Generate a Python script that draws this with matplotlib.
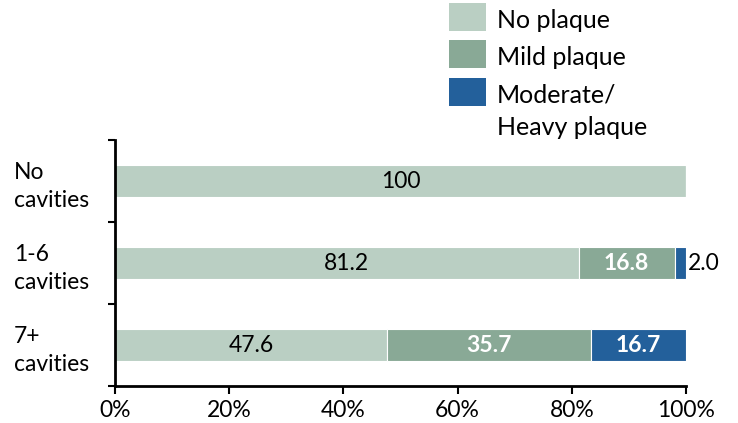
import matplotlib
matplotlib.use("Agg")
import matplotlib.pyplot as plt
from matplotlib.patches import Rectangle
from matplotlib.ticker import FixedLocator, NullFormatter

plt.rcParams['font.family'] = ['Lato', 'DejaVu Sans']

categories = ["No\ncavities", "1-6\ncavities", "7+\ncavities"]
no_plaque = [100, 81.2, 47.6]
mild_plaque = [0, 16.8, 35.7]
heavy_plaque = [0, 2.0, 16.7]
series_names = ["No plaque", "Mild plaque", "Moderate/\nHeavy plaque"]
colors = ["#BACFC3", "#89A996", "#23609B"]
xtick_labels = ["0%", "20%", "40%", "60%", "80%", "100%"]

W, H = 738, 423
fig = plt.figure(figsize=(W / 100, H / 100), dpi=100)
ax = fig.add_axes([115 / W, 1 - 386 / H, (686 - 115) / W, (386 - 140) / H])

ypos = list(range(len(categories)))
bar_h = 0.4
left = [0] * len(categories)
series = [no_plaque, mild_plaque, heavy_plaque]
for vals, col in zip(series, colors):
    ax.barh(ypos, vals, left=left, height=bar_h, color=col,
            edgecolor="white", linewidth=0.8)
    left = [l + v for l, v in zip(left, vals)]

# value labels on each segment
for i in ypos:
    x0 = 0
    for k, vals in enumerate(series):
        v = vals[i]
        if v <= 0:
            continue
        label = f"{v:g}" if v == 100 else f"{v:.1f}"
        if k == 0:
            ax.text(x0 + v / 2, i, label, ha="center", va="center",
                    fontsize=16.5, color="black")
        elif v < 5:
            ax.text(x0 + v + 0.3, i, label, ha="left", va="center",
                    fontsize=16.5, color="black")
        else:
            ax.text(x0 + v / 2, i, label, ha="center", va="center",
                    fontsize=16.5, color="white", fontweight="bold")
        x0 += v

ax.set_xlim(0, 100)
ax.set_ylim(len(categories) - 0.5, -0.5)
ax.set_xticks([0, 20, 40, 60, 80, 100])
ax.set_xticklabels(xtick_labels, fontsize=16.5)
ax.tick_params(axis="x", direction="out", length=6, width=1.5, pad=4)

# category boundaries get tick marks, centres carry the labels
ax.yaxis.set_major_locator(FixedLocator([-0.5, 0.5, 1.5, 2.5]))
ax.yaxis.set_major_formatter(NullFormatter())
ax.yaxis.set_minor_locator(FixedLocator(ypos))
ax.set_yticklabels(categories, minor=True, fontsize=16.5, ha="left",
                   linespacing=1.4)
ax.tick_params(axis="y", which="major", direction="out", length=5, width=1.5)
ax.tick_params(axis="y", which="minor", length=0, pad=(115 - 14) * 0.72)

for s in ["top", "right"]:
    ax.spines[s].set_visible(False)
for s in ["left", "bottom"]:
    ax.spines[s].set_linewidth(2)
    ax.spines[s].set_color("black")

# legend: swatches with labels to their right, first line aligned to swatch
sw_x, sw_w, sw_h = 449, 37, 28
sw_tops = [3, 40, 78]
line_pitch = 32
for name, col, top in zip(series_names, colors, sw_tops):
    fig.patches.append(Rectangle((sw_x / W, 1 - (top + sw_h) / H), sw_w / W,
                                 sw_h / H, transform=fig.transFigure,
                                 facecolor=col, edgecolor="none"))
    for j, line in enumerate(name.split("\n")):
        fig.text(497 / W, 1 - (top + 24.5 + j * line_pitch) / H, line,
                 ha="left", va="baseline", fontsize=18)

fig.savefig("out.png", dpi=100)
